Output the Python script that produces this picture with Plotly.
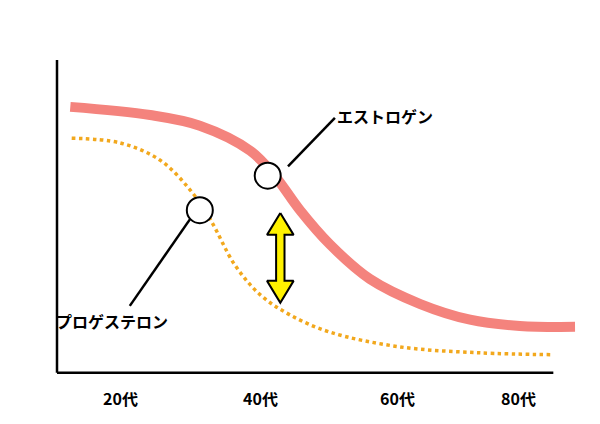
import plotly.graph_objects as go

# data (age, hormone level)
est_age = [12.9, 24.3, 31.4, 38.6, 42.1, 45.7, 50, 55.7, 62.9, 70, 77.1, 85]
est_lvl = [85, 82.4, 79, 71, 63, 52, 41, 30, 22, 17, 15, 14.7]
pro_age = [13.1, 20, 25.7, 30, 32.9, 36.4, 40, 44.3, 50, 60, 71.4, 81.9]
pro_lvl = [75, 73.5, 68, 58.5, 49, 34.5, 25, 18.5, 13, 8.3, 6.4, 5.8]
tick_vals = [20, 40, 59.7, 76.9]
tick_text = ["20代", "40代", "60代", "80代"]
ytitle_chars = ["ホ", "ル", "モ", "ン", "量"]

F = "Noto Sans CJK JP"
fig = go.Figure()
fig.add_trace(go.Scatter(x=est_age, y=est_lvl, mode="lines", line=dict(color="#F4837D", width=10, shape="spline"), hoverinfo="skip"))
fig.add_trace(go.Scatter(x=pro_age, y=pro_lvl, mode="lines", line=dict(color="#F2A81D", width=3.5, dash="dot", shape="spline"), hoverinfo="skip"))
# leader lines
fig.add_trace(go.Scatter(x=[44, 50.7], y=[66, 81.5], mode="lines", line=dict(color="black", width=2.5), hoverinfo="skip"))
fig.add_trace(go.Scatter(x=[30.9, 21.4], y=[52, 21.4], mode="lines", line=dict(color="black", width=2.5), hoverinfo="skip"))
# circles
fig.add_trace(go.Scatter(x=[41.1, 31.4], y=[63, 52], mode="markers", marker=dict(size=26, color="white", line=dict(color="black", width=2)), hoverinfo="skip"))

# double arrow polygon
ax, ytop, ybot = 42.9, 51.1, 22.4
hw, sw, hh = 1.9, 0.6, 7
px = [ax, ax+hw, ax+sw, ax+sw, ax+hw, ax, ax-hw, ax-sw, ax-sw, ax-hw, ax]
py = [ytop, ytop-hh, ytop-hh, ybot+hh, ybot+hh, ybot, ybot+hh, ybot+hh, ytop-hh, ytop-hh, ytop]
fig.add_trace(go.Scatter(x=px, y=py, mode="lines", fill="toself", fillcolor="#FFF200", line=dict(color="black", width=2), hoverinfo="skip"))

# axes
fig.add_shape(type="line", x0=11, x1=11, y0=100, y1=0, line=dict(color="black", width=2.5))
fig.add_shape(type="line", x0=11, x1=81.9, y0=0, y1=0, line=dict(color="black", width=2.5))

fig.add_annotation(x=50.7, y=82, text="<b>エストロゲン</b>", showarrow=False, xanchor="left", font=dict(size=16, family=F, color="black"))
fig.add_annotation(x=10.5, y=16.6, text="<b>プロゲステロン</b>", showarrow=False, xanchor="left", font=dict(size=16, family=F, color="black"))
for i, ch in enumerate(ytitle_chars):
    fig.add_annotation(x=3.8, y=69.3 - i * 11.3, text="<b>" + ch + "</b>", showarrow=False,
                       font=dict(size=30, family=F, color="black"))
for v, t in zip(tick_vals, tick_text):
    fig.add_annotation(x=v, y=-8, text="<b>"+t+"</b>", showarrow=False, font=dict(size=16, family=F, color="black"))

fig.update_layout(width=600, height=424, margin=dict(l=0, r=0, t=0, b=0), showlegend=False,
                  plot_bgcolor="white", paper_bgcolor="white",
                  xaxis=dict(range=[4.0, 89.71], visible=False),
                  yaxis=dict(range=[-18.9, 116.6], visible=False))
fig.write_html("out.html")
